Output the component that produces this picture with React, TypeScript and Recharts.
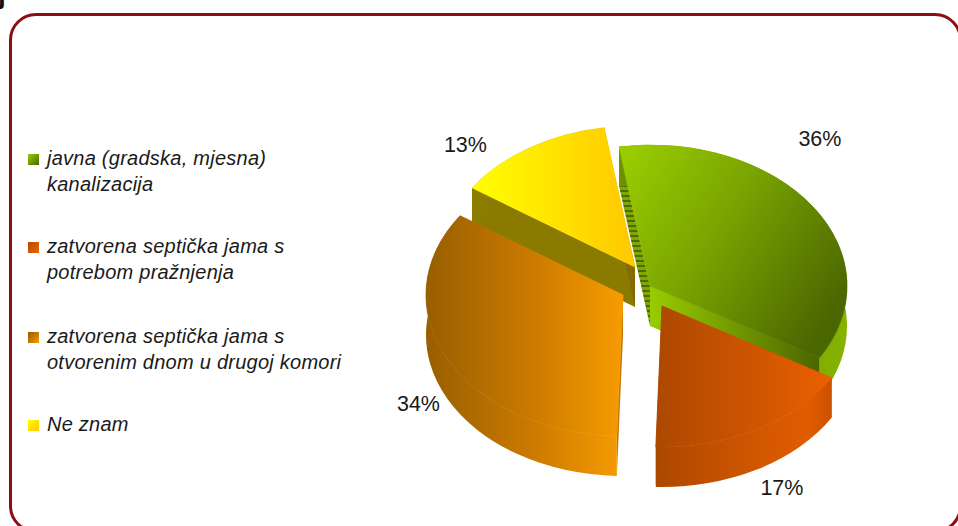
import { PieChart, Pie, Legend } from 'recharts';

const CATEGORIES = [
    'javna (gradska, mjesna) kanalizacija',
    'zatvorena septička jama s potrebom pražnjenja',
    'zatvorena septička jama s otvorenim dnom u drugoj komori',
    'Ne znam',
];
const VALUES = [36, 17, 34, 13];
const LEGEND_LINES = [
    ['javna (gradska, mjesna)', 'kanalizacija'],
    ['zatvorena septička jama s', 'potrebom pražnjenja'],
    ['zatvorena septička jama s', 'otvorenim dnom u drugoj komori'],
    ['Ne znam'],
];

// painter's order: back slices first, so Ne znam goes first
const DRAW_ORDER = [3, 0, 1, 2];
const pieData = DRAW_ORDER.map((i) => ({ name: CATEGORIES[i], value: VALUES[i], idx: i }));

const WIDTH = 958;
const HEIGHT = 526;
const RADIUS = 197;
const TILT = 141 / 197;
const DEPTH = 40;

// how far each slice is pulled out of the pie
const EXPLODE = [
    [10, -5],
    [22, 15],
    [-17, 4],
    [-5, -24],
];
const LABEL_SHIFT = [
    [7, -68],
    [25, 58],
    [-29, 45],
    [-64, -3],
];
const TOP_FILL = ['url(#greenTop)', 'url(#orangeTop)', 'url(#brownTop)', 'url(#yellowTop)'];
const WALL_FILL = ['url(#greenWall)', 'url(#orangeWall)', 'url(#brownTop)', 'url(#yellowSide)'];
const START_FACE = ['url(#greenStripes)', '#a84800', '#c07400', '#8a7a00'];
const END_FACE = ['url(#greenSide)', '#a84800', '#c07400', 'url(#yellowSide)'];
const SWATCHES = [
    'linear-gradient(135deg, #99cc00, #4a6600)',
    'linear-gradient(135deg, #b04a00, #f06400)',
    'linear-gradient(135deg, #8f5c00, #f59a00)',
    'linear-gradient(135deg, #ffff00, #ffc800)',
];

const RAD = Math.PI / 180;

function SliceShape(props: any) {
    const { cx, cy, startAngle, endAngle, outerRadius, payload } = props;
    const idx = payload?.idx ?? props.idx;
    const ax = cx + EXPLODE[idx][0];
    const ay = cy + EXPLODE[idx][1];
    const ry = outerRadius * TILT;
    const px = (a: number) => ax + outerRadius * Math.cos(a * RAD);
    const py = (a: number) => ay - ry * Math.sin(a * RAD);
    const large = Math.abs(endAngle - startAngle) > 180 ? 1 : 0;
    const x1 = px(startAngle);
    const y1 = py(startAngle);
    const x2 = px(endAngle);
    const y2 = py(endAngle);

    const top = `M${ax},${ay} L${x1},${y1} A${outerRadius},${ry} 0 ${large} 1 ${x2},${y2} Z`;
    const wall = `M${x1},${y1} A${outerRadius},${ry} 0 ${large} 1 ${x2},${y2} L${x2},${y2 + DEPTH} A${outerRadius},${ry} 0 ${large} 0 ${x1},${y1 + DEPTH} Z`;
    const startFace = `M${ax},${ay} L${x1},${y1} L${x1},${y1 + DEPTH} L${ax},${ay + DEPTH} Z`;
    const endFace = `M${ax},${ay} L${x2},${y2} L${x2},${y2 + DEPTH} L${ax},${ay + DEPTH} Z`;

    return (
        <g>
            <path d={startFace} fill={START_FACE[idx]} />
            <path d={wall} fill={WALL_FILL[idx]} />
            <path d={endFace} fill={END_FACE[idx]} />
            {/* thin stroke hides the white hairline between top and wall */}
            <path d={top} fill={TOP_FILL[idx]} stroke={TOP_FILL[idx]} strokeWidth={0.8} />
        </g>
    );
}

function renderLabel(props: any) {
    const { cx, cy, midAngle, outerRadius, payload, value } = props;
    const idx = payload?.idx ?? props.idx;
    const x = cx + EXPLODE[idx][0] + outerRadius * Math.cos(midAngle * RAD) + LABEL_SHIFT[idx][0];
    const y = cy + EXPLODE[idx][1] - outerRadius * TILT * Math.sin(midAngle * RAD) + LABEL_SHIFT[idx][1];
    return (
        <text x={x} y={y} textAnchor="middle" dominantBaseline="central" fontSize={21.5} fill="#1a1a1a" fontFamily="Liberation Sans">
            {value}%
        </text>
    );
}

const LEGEND_TOPS = [146, 234, 324, 412];

// height stays at 1px so the legend takes no room from the plot area
function LegendBox() {
    return (
        <div style={{ position: 'relative', width: 380, height: 1, fontFamily: 'Liberation Sans', fontStyle: 'italic', fontSize: 20, letterSpacing: 0.25, color: '#1a1a1a' }}>
            {LEGEND_LINES.map((lines, i) => (
                <div key={i}>
                    <div style={{ position: 'absolute', left: 28, top: LEGEND_TOPS[i] + 8, width: 11, height: 11, background: SWATCHES[i] }} />
                    {lines.map((line, j) => (
                        <div key={j} style={{ position: 'absolute', left: 47, top: LEGEND_TOPS[i] + j * 26 - 1, lineHeight: '26px', whiteSpace: 'nowrap' }}>
                            {line}
                        </div>
                    ))}
                </div>
            ))}
        </div>
    );
}

export default function App() {
    return (
        <div style={{ position: 'absolute', left: 0, top: 0, width: WIDTH, height: HEIGHT, overflow: 'hidden', background: '#fff' }}>
            <div style={{ position: 'absolute', left: -2, top: -22, fontFamily: 'Liberation Sans', fontWeight: 'bold', fontSize: 28, color: '#111' }}>j</div>
            <div style={{ position: 'absolute', left: 9, top: 13, width: 953, height: 520, boxSizing: 'border-box', border: '3px solid #8b0f12', borderRadius: 27 }} />
            <PieChart width={WIDTH} height={HEIGHT} margin={{ top: 0, right: 0, bottom: 0, left: 0 }} style={{ position: 'absolute', left: 0, top: 0 }}>
                <defs>
                    <linearGradient id="greenTop" x1="0" y1="0.1" x2="1" y2="0.7">
                        <stop offset="0" stopColor="#99cc00" />
                        <stop offset="0.45" stopColor="#7aa300" />
                        <stop offset="1" stopColor="#4a6600" />
                    </linearGradient>
                    <linearGradient id="greenSide" x1="0" y1="0" x2="1" y2="0">
                        <stop offset="0" stopColor="#99cc00" />
                        <stop offset="1" stopColor="#4a6600" />
                    </linearGradient>
                    <linearGradient id="greenWall" x1="0" y1="0" x2="1" y2="0">
                        <stop offset="0" stopColor="#6c9000" />
                        <stop offset="1" stopColor="#86b200" />
                    </linearGradient>
                    <pattern id="greenStripes" width="6" height="5" patternUnits="userSpaceOnUse">
                        <rect width="6" height="5" fill="#7fa800" />
                        <rect width="6" height="2" fill="#4f6b00" />
                    </pattern>
                    <linearGradient id="orangeTop" gradientUnits="userSpaceOnUse" x1="655" y1="0" x2="835" y2="0">
                        <stop offset="0" stopColor="#ac4800" />
                        <stop offset="1" stopColor="#ec6000" />
                    </linearGradient>
                    <linearGradient id="orangeWall" gradientUnits="userSpaceOnUse" x1="655" y1="0" x2="835" y2="0">
                        <stop offset="0" stopColor="#ac4800" />
                        <stop offset="0.7" stopColor="#da5900" />
                        <stop offset="0.85" stopColor="#e05c00" />
                        <stop offset="1" stopColor="#c85000" />
                    </linearGradient>
                    <linearGradient id="brownTop" gradientUnits="userSpaceOnUse" x1="427" y1="0" x2="625" y2="0">
                        <stop offset="0" stopColor="#985f00" />
                        <stop offset="0.5" stopColor="#c87800" />
                        <stop offset="1" stopColor="#f89c00" />
                    </linearGradient>
                    <linearGradient id="yellowTop" x1="0" y1="0" x2="1" y2="0">
                        <stop offset="0" stopColor="#ffff00" />
                        <stop offset="1" stopColor="#ffc800" />
                    </linearGradient>
                    <linearGradient id="yellowSide" x1="0" y1="0" x2="1" y2="0">
                        <stop offset="0" stopColor="#8c7e00" />
                        <stop offset="1" stopColor="#856800" />
                    </linearGradient>
                </defs>
                <Legend
                    verticalAlign="top"
                    align="left"
                    wrapperStyle={{ left: 0, top: 0, width: 380, height: 1 }}
                    content={() => <LegendBox />}
                />
                <Pie
                    data={pieData}
                    dataKey="value"
                    nameKey="name"
                    cx={640}
                    cy={290}
                    outerRadius={RADIUS}
                    startAngle={145.8}
                    endAngle={-214.2}
                    stroke="none"
                    shape={SliceShape}
                    label={renderLabel}
                    labelLine={false}
                    isAnimationActive={false}
                />
            </PieChart>
        </div>
    );
}
